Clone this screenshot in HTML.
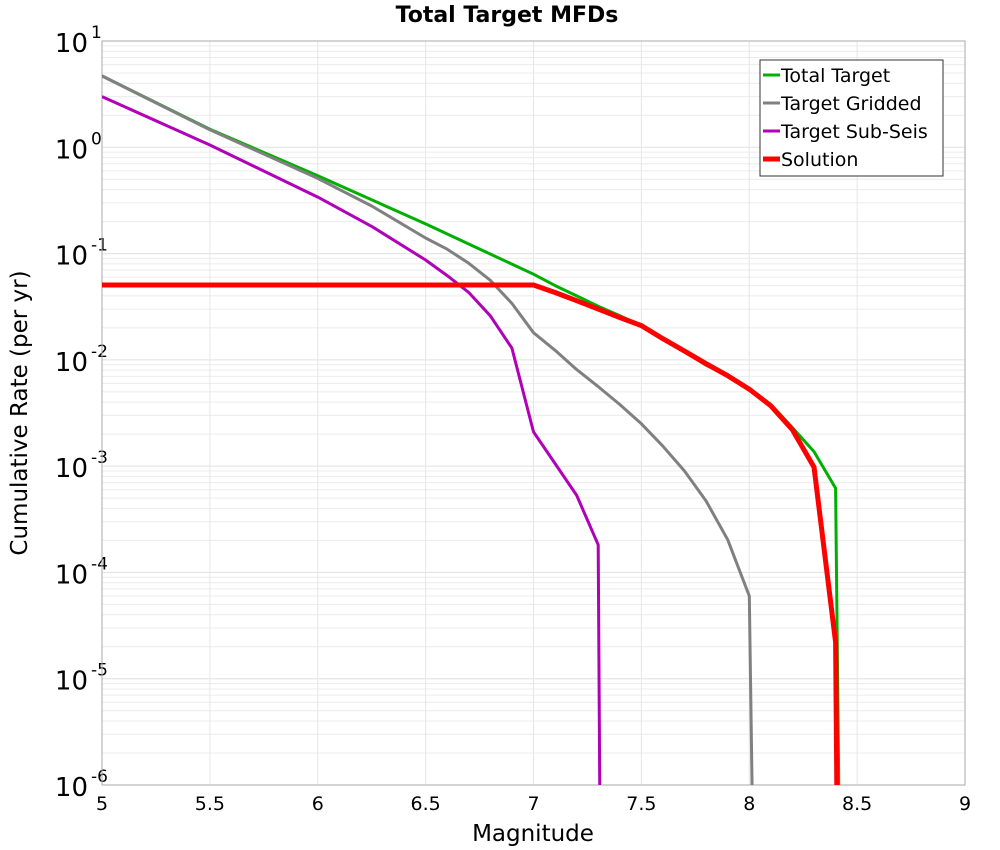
<!DOCTYPE html>
<html><head><meta charset="utf-8"><style>
body{margin:0;background:#fff;}
svg{display:block;font-family:"DejaVu Sans","Liberation Sans",sans-serif;}
</style></head><body>
<svg id="chart" width="1000" height="850">
<text x="507" y="22" text-anchor="middle" font-size="22" font-weight="bold">Total Target MFDs</text>
<g id="grid"></g>
<g id="axes"></g>
<g id="series"></g>
<text x="533" y="841" text-anchor="middle" font-size="23">Magnitude</text>
<text transform="translate(27,413) rotate(-90)" text-anchor="middle" font-size="23">Cumulative Rate (per yr)</text>
<g>
<rect x="760" y="60" width="183" height="116" fill="#fff" stroke="#333" stroke-width="1"/>
<g><line x1="763" y1="75" x2="780" y2="75" stroke="#00b000" stroke-width="3"/><text x="781" y="82" font-size="19">Total Target</text></g>
<g><line x1="763" y1="103" x2="780" y2="103" stroke="#808080" stroke-width="3"/><text x="781" y="110" font-size="19">Target Gridded</text></g>
<g><line x1="763" y1="131" x2="780" y2="131" stroke="#b000b8" stroke-width="3"/><text x="781" y="138" font-size="19">Target Sub-Seis</text></g>
<g><line x1="763" y1="159" x2="780" y2="159" stroke="#ff0000" stroke-width="5"/><text x="781" y="166" font-size="19">Solution</text></g>
</g>
</svg>
<script>
const xTicks = [5,5.5,6,6.5,7,7.5,8,8.5,9];
const xTickLabels = ["5","5.5","6","6.5","7","7.5","8","8.5","9"];
const yDecades = [1,0,-1,-2,-3,-4,-5,-6];
const totalMag = [5,5.5,6,6.5,7,7.1,7.2,7.3,7.4,7.5,7.6,7.7,7.8,7.9,8.0,8.1,8.2,8.3,8.4,8.42];
const totalRate = [4.7,1.48,0.54,0.19,0.064,0.050,0.040,0.032,0.026,0.021,0.0156,0.0119,0.0089,0.0071,0.0054,0.0038,0.0023,0.00137,0.00062,1e-7];
const griddedMag = [5,5.5,6,6.25,6.5,6.6,6.7,6.8,6.9,7.0,7.1,7.2,7.3,7.4,7.5,7.6,7.7,7.8,7.9,8.0,8.02];
const griddedRate = [4.7,1.46,0.51,0.28,0.14,0.11,0.081,0.056,0.034,0.018,0.0123,0.0081,0.0056,0.0038,0.0025,0.00154,0.0009,0.00047,0.000203,0.00006,1e-7];
const subSeisMag = [5,5.5,6,6.25,6.5,6.6,6.7,6.8,6.9,7.0,7.2,7.3,7.31];
const subSeisRate = [3.0,1.05,0.34,0.18,0.087,0.062,0.043,0.026,0.0129,0.0021,0.00053,0.000182,1e-7];
const solutionMag = [5,7.0,7.1,7.2,7.3,7.4,7.5,7.6,7.7,7.8,7.9,8.0,8.1,8.2,8.3,8.4,8.41];
const solutionRate = [0.0506,0.0506,0.043,0.036,0.030,0.025,0.021,0.0158,0.0121,0.0092,0.0071,0.0053,0.0037,0.0022,0.00098,0.000022,1e-7];

const L=102,R=965,T=41,B=785;
const xs = m => L + (m-5)/(9-5)*(R-L);
const ys = v => T + (1-Math.log10(v))/7*(B-T);
const NS='http://www.w3.org/2000/svg';
function mk(tag,attrs,parent){const e=document.createElementNS(NS,tag);for(const k in attrs)e.setAttribute(k,attrs[k]);parent.appendChild(e);return e;}
const grid=document.getElementById('grid'), axes=document.getElementById('axes'), series=document.getElementById('series');
for(const d of yDecades){
  if(d>-6){for(let k=2;k<=9;k++){const y=ys(k*Math.pow(10,d-1));const ln=mk('line',{x1:L,x2:R,y1:y,y2:y,stroke:'#ececec','stroke-width':1},grid);
  
  }}
  const y=ys(Math.pow(10,d));
  const ln=mk('line',{x1:L,x2:R,y1:y,y2:y,stroke:'#e0e0e0','stroke-width':1},grid);
  
  
  const t=mk('text',{x:88,y:y+11,'text-anchor':'end','font-size':26},axes);
  t.textContent='10';
  
  
  const s=mk('text',{x:91,y:y-3,'font-size':17},axes);
  s.textContent=String(d);
  
  
}
xTicks.forEach((m,i)=>{
  const x=xs(m);
  const ln=mk('line',{x1:x,x2:x,y1:T,y2:B,stroke:'#e6e6e6','stroke-width':1},grid);
  
  
  const t=mk('text',{x:x,y:810,'text-anchor':'middle','font-size':19},axes);
  t.textContent=xTickLabels[i];
  
  
});
const frame=mk('rect',{x:L,y:T,width:R-L,height:B-T,fill:'none',stroke:'#aaa','stroke-width':1},axes);


const clip=mk('clipPath',{id:'pc'},series);mk('rect',{x:L,y:T,width:R-L,height:B-T},clip);
function draw(mags,rates,color,w,name){
  const pts=mags.map((m,i)=>xs(m).toFixed(1)+','+ys(rates[i]).toFixed(1)).join(' ');
  const p=mk('polyline',{points:pts,fill:'none',stroke:color,'stroke-width':w,'stroke-linejoin':'round','clip-path':'url(#pc)'},series);
  
  
}
draw(totalMag,totalRate,'#00b000',3,'total-target-line');
draw(griddedMag,griddedRate,'#808080',3,'target-gridded-line');
draw(subSeisMag,subSeisRate,'#b000b8',3,'target-sub-seis-line');
draw(solutionMag,solutionRate,'#ff0000',5,'solution-line');
</script>
</body></html>
